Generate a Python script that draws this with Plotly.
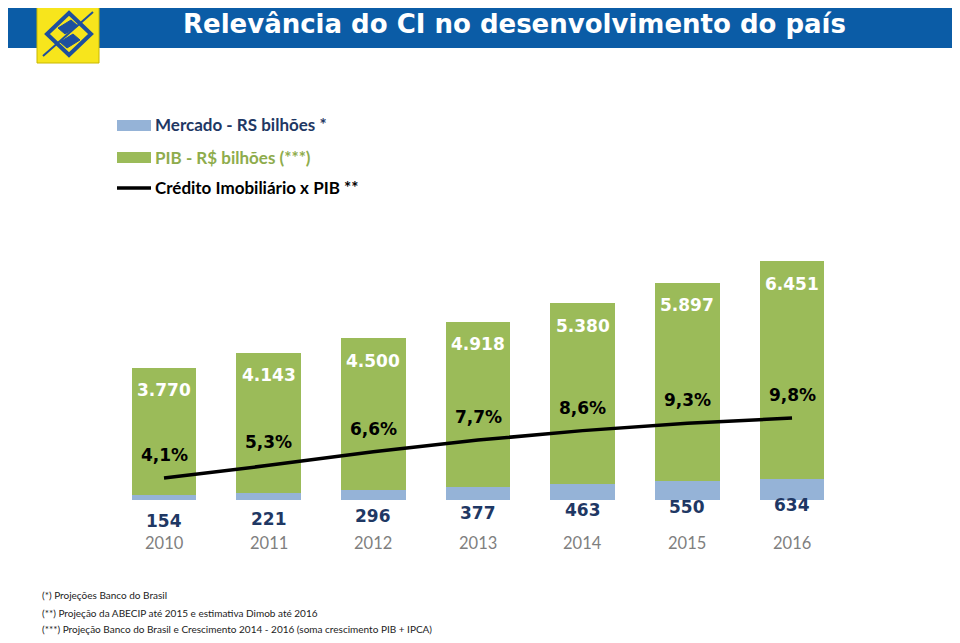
import plotly.graph_objects as go

# ---- data ----
years = ["2010", "2011", "2012", "2013", "2014", "2015", "2016"]
mercado = [154, 221, 296, 377, 463, 550, 634]
pib = [3770, 4143, 4500, 4918, 5380, 5897, 6451]
credito_pib = [4.1, 5.3, 6.6, 7.7, 8.6, 9.3, 9.8]

title = "Relevância do CI no desenvolvimento do país"
legend_labels = ["Mercado - RS bilhões *", "PIB - R$ bilhões (***)", "Crédito Imobiliário x PIB **"]
footnotes = [
    "(*) Projeções Banco do Brasil",
    "(**) Projeção da ABECIP até 2015 e estimativa Dimob até 2016",
    "(***) Projeção Banco do Brasil e Crescimento 2014 - 2016 (soma crescimento PIB + IPCA)",
]

# page has an 8px body margin, so the figure is sized to fit inside the window
OFF = 8
FW, FH = 960 - 2 * OFF, 643 - 2 * OFF
GREEN = "#9bbb59"
BLUE = "#95b3d7"
NAVY = "#1f3864"
HEADER = "#0b5ca6"
FONT = "Lato"
LABEL_FONT = "DejaVu Sans"

def fmt_thousands(v):
    return f"{v:,}".replace(",", ".")

def fmt_pct(v):
    return f"{v:.1f}".replace(".", ",") + "%"

def px_x(p):
    return (p - OFF) / FW

def px_y(p):
    return 1 - (p - OFF) / FH

x = list(range(len(years)))

fig = go.Figure()
fig.add_trace(go.Bar(x=x, y=mercado, marker=dict(color=BLUE, line=dict(width=0)),
                     width=0.62, name=legend_labels[0], showlegend=False, hoverinfo="skip"))
fig.add_trace(go.Bar(x=x, y=pib, marker=dict(color=GREEN, line=dict(width=0)),
                     width=0.62, name=legend_labels[1], showlegend=False, hoverinfo="skip"))
fig.add_trace(go.Scatter(x=x, y=credito_pib, yaxis="y2", mode="lines",
                         line=dict(color="black", width=3.5), name=legend_labels[2],
                         showlegend=False, hoverinfo="skip"))

# axis mappings (reference pixel layout)
x0_px, step_px = 164 - OFF, 104.67
y_zero_px, units_per_px = 500 - OFF, 29.67
y2_ref_px, y2_ref_val, y2_units_per_px = 478 - OFF, 4.1, 0.09497

xr = [-x0_px / step_px, (FW - x0_px) / step_px]
yr = [-(FH - y_zero_px) * units_per_px, y_zero_px * units_per_px]
y2r = [y2_ref_val - (FH - y2_ref_px) * y2_units_per_px, y2_ref_val + y2_ref_px * y2_units_per_px]

ann = []
for i in x:
    tot = mercado[i] + pib[i]
    ann.append(dict(x=i, y=tot, xref="x", yref="y", text=f"<b>{fmt_thousands(pib[i])}</b>",
                    showarrow=False, yshift=-22.5, xanchor="center", yanchor="middle",
                    font=dict(family=LABEL_FONT, size=17, color="white")))
    ann.append(dict(x=i, y=credito_pib[i], xref="x", yref="y2", text=f"<b>{fmt_pct(credito_pib[i])}</b>",
                    showarrow=False, yshift=23, xanchor="center", yanchor="middle",
                    font=dict(family=LABEL_FONT, size=17, color="black")))
    ann.append(dict(x=i, y=mercado[i], xref="x", yref="y", text=f"<b>{mercado[i]}</b>",
                    showarrow=False, yshift=-26, xanchor="center", yanchor="middle",
                    font=dict(family=LABEL_FONT, size=17, color=NAVY)))
    ann.append(dict(x=i, y=0, xref="x", yref="y", text=years[i],
                    showarrow=False, yshift=-43, xanchor="center", yanchor="middle",
                    font=dict(family=FONT, size=16.5, color="#7f7f7f")))

# title
ann.append(dict(x=px_x(515), y=px_y(24.5), xref="paper", yref="paper", text=f"<b>{title}</b>",
                showarrow=False, xanchor="center", yanchor="middle",
                font=dict(family="DejaVu Sans", size=26, color="white")))

# legend
leg_y = [125, 157, 188]
leg_colors = [NAVY, "#8eac4c", "black"]
for i, lab in enumerate(legend_labels):
    ann.append(dict(x=px_x(153), y=px_y(leg_y[i]), xref="paper", yref="paper", text=f"<b>{lab}</b>",
                    showarrow=False, xanchor="left", yanchor="middle",
                    font=dict(family=FONT, size=17, color=leg_colors[i])))

# footnotes
foot_y = [595, 613, 628.5]
for i, t in enumerate(footnotes):
    ann.append(dict(x=px_x(40), y=px_y(foot_y[i]), xref="paper", yref="paper", text=t,
                    showarrow=False, xanchor="left", yanchor="middle",
                    font=dict(family=FONT, size=10, color="#222222")))

shapes = [
    dict(type="rect", xref="paper", yref="paper", x0=-0.05, x1=1.05, y0=px_y(48), y1=1.05,
         fillcolor=HEADER, line=dict(width=0), layer="below"),
    # logo
    dict(type="rect", xref="paper", yref="paper", x0=px_x(37), x1=px_x(99), y0=px_y(63), y1=px_y(6),
         fillcolor="#f7e51c", line=dict(color="#c9b800", width=1)),
    # legend swatches
    dict(type="rect", xref="paper", yref="paper", x0=px_x(117), x1=px_x(151), y0=px_y(131), y1=px_y(120),
         fillcolor=BLUE, line=dict(width=0)),
    dict(type="rect", xref="paper", yref="paper", x0=px_x(117), x1=px_x(151), y0=px_y(163), y1=px_y(152),
         fillcolor=GREEN, line=dict(width=0)),
    dict(type="line", xref="paper", yref="paper", x0=px_x(117), x1=px_x(151), y0=px_y(188), y1=px_y(188),
         line=dict(color="black", width=3.5)),
]

# Banco do Brasil style logo mark (decorative)
def logo_path(pts):
    return "M " + " L ".join(f"{px_x(a)},{px_y(b)}" for a, b in pts) + " Z"

logo_blue = "#1d4f9e"
shapes.append(dict(type="line", xref="paper", yref="paper", x0=px_x(43), y0=px_y(56), x1=px_x(93), y1=px_y(12),
                   line=dict(color=logo_blue, width=2)))
shapes.append(dict(type="path", xref="paper", yref="paper",
                   path=logo_path([(69, 13), (91, 34), (69, 55), (47, 34)]),
                   fillcolor="rgba(0,0,0,0)", line=dict(color=logo_blue, width=4)))
shapes.append(dict(type="path", xref="paper", yref="paper",
                   path=logo_path([(58, 28), (71, 20), (78, 26), (65, 34)]),
                   fillcolor=logo_blue, line=dict(color=logo_blue, width=1)))
shapes.append(dict(type="path", xref="paper", yref="paper",
                   path=logo_path([(60, 42), (73, 34), (80, 40), (67, 48)]),
                   fillcolor=logo_blue, line=dict(color=logo_blue, width=1)))

fig.update_layout(
    width=FW, height=FH,
    barmode="stack",
    margin=dict(l=0, r=0, t=0, b=0, pad=0),
    paper_bgcolor="white", plot_bgcolor="white",
    xaxis=dict(range=xr, domain=[0, 1], visible=False, fixedrange=True),
    yaxis=dict(range=yr, domain=[0, 1], visible=False, fixedrange=True),
    yaxis2=dict(range=y2r, overlaying="y", visible=False, fixedrange=True),
    annotations=ann,
    shapes=shapes,
    showlegend=False,
    bargap=0,
)

fig.write_html("out.html")
